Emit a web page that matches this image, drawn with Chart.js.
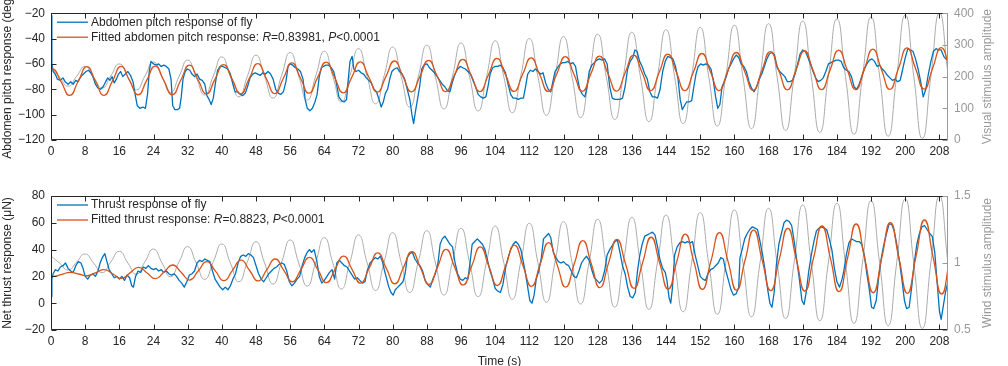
<!DOCTYPE html>
<html>
<head>
<meta charset="utf-8">
<title>Fly pitch and thrust responses</title>
<script src="https://cdn.jsdelivr.net/npm/chart.js@4.4.0/dist/chart.umd.min.js"></script>
<style>
  html, body { margin: 0; padding: 0; background: #fff; overflow: hidden; }
  canvas { position: absolute; left: 0; }
  #pitchChart { top: 0; }
  #thrustChart { top: 170px; }
</style>
</head>
<body>
<canvas id="pitchChart" width="1008" height="170"></canvas>
<canvas id="thrustChart" width="1008" height="200"></canvas>
<script>
// ---- data ----
const timeTicks = [0, 8, 16, 24, 32, 40, 48, 56, 64, 72, 80, 88, 96, 104, 112, 120, 128, 136, 144, 152, 160, 168, 176, 184, 192, 200, 208];
const pitchTicks = [-120, -100, -80, -60, -40, -20];
const visualTicks = [0, 100, 200, 300, 400];
const thrustTicks = [-20, 0, 20, 40, 60, 80];
const windTicks = [0.5, 1, 1.5];

const pitchStats = { R: '0.83981', P: '0.0001' };
const thrustStats = { R: '0.8823', P: '0.0001' };

// abdomen pitch of fly, [time s, deg]
const pitchFly = [
  [0,-22],[0.2,-60],[0.5,-66],[1,-68],[1.5,-72],[2.2,-73],[2.8,-71],[3.3,-74],[4,-76],[4.6,-74],[5.2,-76],[5.8,-73],
  [6.3,-74],[7,-70],[7.6,-68],[8.2,-66],[8.8,-65],[9.3,-67],[9.8,-70],[10.4,-76],[11,-79],[11.6,-80],[12.2,-78],[12.8,-74],
  [13.3,-71],[13.8,-73],[14.3,-70],[14.8,-75],[15.3,-72],[15.8,-68],[16.3,-66],[16.8,-70],[17.4,-68],[18,-66],[18.6,-69],
  [19.2,-74],[19.7,-84],[20.2,-93],[20.8,-95],[21.5,-94],[22.1,-95],[22.6,-84],[23,-66],[23.4,-58],[24,-60],[24.6,-61],
  [25.2,-60],[25.8,-62],[26.4,-61],[27,-62],[27.6,-64],[28.1,-72],[28.5,-93],[29,-96],[29.6,-96],[30.1,-95],[30.5,-86],
  [30.9,-72],[31.4,-66],[31.9,-64],[32.5,-65],[33,-68],[33.6,-70],[34.2,-68],[34.8,-72],[35.4,-73],[36,-76],[36.5,-85],
  [37,-88],[37.5,-92],[38,-87],[38.5,-75],[39,-65],[39.6,-62],[40.2,-62],[40.8,-63],[41.4,-64],[42,-68],[42.6,-76],
  [43.1,-82],[43.7,-82],[44.3,-84],[44.9,-85],[45.5,-83],[46,-78],[46.6,-71],[47.2,-68],[47.8,-67],[48.4,-68],[49,-69],
  [49.6,-67],[50.2,-68],[50.8,-66],[51.4,-68],[52,-72],[52.6,-80],[53.2,-83],[53.8,-84],[54.4,-82],[55,-74],[55.5,-62],
  [56,-60],[56.6,-61],[57.2,-63],[57.8,-64],[58.4,-66],[59,-72],[59.5,-88],[60,-95],[60.6,-97],[61.2,-95],[61.8,-90],
  [62.3,-84],[62.8,-70],[63.3,-63],[63.8,-62],[64.4,-61],[65,-61],[65.6,-63],[66.2,-66],[66.8,-75],[67.4,-86],[68,-89],
  [68.6,-90],[69.2,-88],[69.6,-72],[70,-58],[70.5,-54],[70.9,-64],[71.4,-66],[72,-65],[72.6,-67],[73.2,-68],[73.8,-71],
  [74.4,-73],[75,-75],[75.6,-80],[76.2,-82],[76.8,-88],[77.3,-94],[77.8,-90],[78.3,-83],[78.8,-80],[79.3,-72],[79.8,-66],
  [80.4,-64],[81,-63],[81.6,-66],[82.2,-68],[82.8,-72],[83.4,-80],[84,-88],[84.5,-100],[84.9,-107],[85.3,-98],[85.8,-88],
  [86.3,-78],[86.8,-64],[87.3,-61],[88,-60],[88.6,-63],[89.2,-65],[89.8,-67],[90.4,-70],[91,-73],[91.6,-76],[92.2,-78],
  [92.8,-81],[93.4,-82],[94,-74],[94.6,-68],[95.2,-64],[95.8,-62],[96.4,-63],[97,-64],[97.6,-66],[98.2,-68],[98.8,-73],
  [99.4,-78],[100,-84],[100.6,-86],[101.2,-87],[101.8,-86],[102.3,-78],[102.8,-68],[103.4,-63],[104,-62],[104.6,-62],
  [105.2,-61],[105.8,-63],[106.4,-67],[107,-76],[107.6,-84],[108.2,-87],[108.8,-87],[109.4,-88],[110,-87],[110.6,-87],
  [111.1,-78],[111.6,-68],[112.2,-65],[112.8,-66],[113.4,-64],[114,-66],[114.6,-68],[115.2,-67],[115.8,-75],[116.4,-80],
  [117,-82],[117.5,-74],[118,-66],[118.6,-63],[119.2,-60],[119.8,-59],[120.4,-59],[121,-58],[121.6,-60],[122.2,-59],
  [122.8,-62],[123.3,-72],[123.8,-80],[124.4,-84],[125,-86],[125.5,-78],[126,-66],[126.6,-61],[127.2,-59],[127.8,-57],
  [128.4,-56],[129,-57],[129.6,-56],[130.2,-60],[130.8,-78],[131.4,-87],[132,-88],[132.6,-88],[133.2,-88],[133.8,-87],
  [134.4,-78],[135,-64],[135.6,-58],[136.2,-55],[136.7,-49],[137.2,-50],[137.8,-58],[138.4,-62],[139,-68],[139.6,-72],
  [140.2,-82],[140.8,-86],[141.4,-86],[142,-87],[142.6,-80],[143.2,-66],[143.8,-58],[144.4,-54],[145,-55],[145.6,-56],
  [146.2,-62],[146.8,-72],[147.3,-88],[147.8,-96],[148.3,-93],[148.8,-90],[149.4,-90],[150,-89],[150.5,-78],[151,-68],
  [151.5,-62],[152.1,-60],[152.7,-61],[153.3,-60],[153.9,-61],[154.5,-64],[155,-72],[155.6,-86],[156.1,-95],[156.6,-92],
  [157.1,-78],[157.6,-74],[158.1,-70],[158.6,-64],[159.2,-60],[159.8,-56],[160.4,-53],[161,-55],[161.6,-60],[162.2,-62],
  [162.8,-66],[163.4,-74],[164,-79],[164.6,-82],[165.2,-78],[165.8,-72],[166.4,-68],[167,-62],[167.6,-56],[168.2,-52],
  [168.8,-51],[169.4,-53],[170,-63],[170.6,-66],[171.2,-68],[171.8,-70],[172.4,-74],[173,-74],[173.6,-73],[174.2,-68],
  [174.8,-60],[175.4,-52],[176,-49],[176.6,-50],[177.2,-55],[177.8,-60],[178.4,-66],[179,-71],[179.6,-74],[180.2,-73],
  [180.8,-71],[181.4,-66],[182,-60],[182.6,-59],[183.2,-58],[183.8,-57],[184.4,-57],[185,-58],[185.6,-63],[186.2,-65],
  [186.8,-66],[187.4,-70],[188,-78],[188.6,-80],[189.2,-76],[189.8,-70],[190.4,-64],[191,-60],[191.6,-57],[192.2,-56],
  [192.8,-58],[193.4,-62],[194,-61],[194.6,-64],[195.2,-66],[195.8,-69],[196.4,-71],[197,-73],[197.6,-72],[198.2,-74],
  [198.8,-73],[199.4,-64],[200,-55],[200.6,-48],[201.2,-49],[201.8,-50],[202.4,-56],[203,-64],[203.6,-74],[204.2,-86],
  [204.8,-80],[205.4,-68],[206,-58],[206.6,-50],[207.2,-48],[207.8,-49],[208.4,-49],[209,-54],[209.5,-56],[210,-56]
];

// fitted pitch, sampled every 2 s starting at -1.6 s (deg)
const pitchFitStart = -1.6;
const pitchFit = [
  -72, -64, -74.4, -84.8,  -73.5, -62.2, -73.5, -84.8,  -73.4, -62, -73.2, -84.3,  -73, -61.7, -73, -84.3,
  -72.7, -61, -72.3, -83.6,  -72, -60.5, -72, -83.6,  -71.6, -59.7, -71.5, -83.4,  -71.3, -59.2, -71.1, -83.1,
  -70.8, -58.6, -70.7, -82.8,  -70.6, -58.4, -70.3, -82.3,  -70, -57.7, -69.8, -82,  -69.6, -57.2, -69.5, -81.8,
  -69.1, -56.4, -69.1, -81.8,  -68.7, -55.6, -68.6, -81.7,  -68.4, -55.2, -68.4, -81.7,  -68, -54.3, -67.9, -81.6,
  -67.7, -53.9, -67.7, -81.5,  -67.2, -53, -67, -81.1,  -66.6, -52.2, -66.6, -81.1,  -66.4, -51.8, -66.4, -81,
  -66, -51, -65.9, -80.8,  -65.5, -50.3, -65.3, -80.4,  -65, -49.6, -65, -80.3,  -64.7, -49.1, -64.6, -80.2,
  -64.3, -48.4, -64.2, -80.1,  -63.7, -47.4, -63.6, -79.8,  -63.4, -47.1, -63.4
];

// visual stimulus amplitude, sampled every 2 s from 0 s
const visualStimStart = 0;
const visualStim = [
  228, 199, 170, 201,  232, 198, 164, 202,  240, 199, 158, 202,  246, 198, 150, 201,
  252, 197, 142, 202,  262, 199, 136, 202,  268, 200, 132, 204,  276, 201, 126, 203,
  280, 200, 120, 204,  288, 201, 114, 203,  293, 199, 104, 201,  299, 198, 98, 202,
  306, 199, 92, 202,  313, 200, 86, 203,  320, 199, 78, 202,  326, 198, 71, 202,
  334, 199, 65, 202,  340, 199, 58, 203,  348, 200, 52, 203,  355, 199, 44, 203,
  362, 199, 36, 201,  367, 198, 30, 202,  375, 199, 24, 203,  382, 200, 18, 203,
  388, 200, 12, 203,  394, 199, 5, 202,  400, 210
];

// net thrust of fly, [time s, uN]
const thrustFly = [
  [0,5],[0.2,18],[0.5,22],[1,25],[1.6,24],[2.2,27],[2.8,28],[3.4,30],[4,26],[4.6,24],[5.2,23],[5.8,28],[6.4,31],[7,30],
  [7.5,26],[8,20],[8.6,18],[9.2,21],[9.8,22],[10.4,20],[11,24],[11.5,30],[12,34],[12.6,37],[13.1,31],[13.6,25],[14.2,22],
  [14.8,19],[15.4,20],[16,18],[16.6,20],[17.2,17],[17.8,21],[18.4,19],[18.9,13],[19.3,12],[19.8,20],[20.4,24],[21,23],
  [21.6,27],[22.2,26],[22.8,28],[23.4,26],[24,25],[24.6,26],[25.2,24],[25.8,25],[26.4,23],[27,24],[27.6,22],[28.2,21],
  [28.8,22],[29.4,20],[30,17],[30.6,15],[31.2,12],[31.8,16],[32.4,21],[33,22],[33.6,24],[34.2,30],[34.8,32],[35.4,31],
  [36,33],[36.6,32],[37.2,31],[37.8,24],[38.4,18],[39,15],[39.6,12],[40.2,10],[40.8,12],[41.4,10],[42,13],[42.6,18],
  [43.2,22],[43.8,30],[44.4,35],[45,36],[45.6,35],[46.2,37],[46.8,36],[47.4,34],[48,28],[48.6,22],[49.2,18],[49.8,16],
  [50.4,19],[51,22],[51.6,24],[52.2,26],[52.8,27],[53.4,29],[54,30],[54.6,29],[55.2,24],[55.8,16],[56.4,13],[57,15],
  [57.6,18],[58.2,20],[58.8,28],[59.4,34],[60,38],[60.5,40],[61,38],[61.6,40],[62.2,32],[62.8,20],[63.4,15],[64,17],
  [64.6,20],[65.2,23],[65.8,25],[66.4,18],[66.9,30],[67.5,32],[68.1,30],[68.7,28],[69.3,27],[69.9,24],[70.5,21],[71.1,18],
  [71.7,19],[72.3,17],[72.9,15],[73.5,16],[74.1,25],[74.7,30],[75.3,32],[75.9,34],[76.5,33],[77.1,35],[77.6,31],[78.1,24],
  [78.6,18],[79.1,12],[79.6,8],[80.1,6],[80.6,10],[81.2,12],[81.8,14],[82.4,16],[82.9,22],[83.4,34],[84,37],[84.6,38],
  [85.2,33],[85.8,30],[86.4,28],[87,24],[87.6,17],[88.2,14],[88.8,12],[89.4,18],[90,22],[90.6,30],[91.1,44],[91.6,48],
  [92.2,50],[92.8,47],[93.4,44],[94,42],[94.6,30],[95.2,22],[95.8,18],[96.4,17],[97,19],[97.6,18],[98.1,30],[98.6,44],
  [99.2,46],[99.8,48],[100.4,46],[101,44],[101.6,40],[102.2,32],[102.8,24],[103.4,18],[104,11],[104.6,9],[105.2,8],
  [105.8,14],[106.4,26],[107,34],[107.6,40],[108.2,44],[108.8,46],[109.4,44],[110,40],[110.5,32],[111,24],[111.6,12],
  [112.1,2],[112.6,0],[113.1,6],[113.6,18],[114.2,24],[114.8,34],[115.3,48],[115.9,50],[116.5,52],[117,49],[117.6,38],
  [118.2,34],[118.8,31],[119.4,30],[120,31],[120.6,29],[121.2,28],[121.8,24],[122.4,20],[123,19],[123.6,24],[124.2,30],
  [124.8,33],[125.4,35],[126,32],[126.6,25],[127.2,19],[127.8,17],[128.4,15],[129,17],[129.6,24],[130.2,36],[130.8,40],
  [131.4,43],[132,46],[132.6,47],[133.2,38],[133.8,28],[134.4,22],[135,12],[135.6,5],[136.2,4],[136.8,8],[137.3,24],
  [137.8,35],[138.4,44],[139,50],[139.6,51],[140.2,52],[140.8,53],[141.4,51],[142,42],[142.6,32],[143.2,26],[143.8,23],
  [144.2,17],[144.7,4],[145.1,0],[145.5,12],[146,36],[146.6,42],[147.2,45],[147.8,46],[148.4,45],[149,46],[149.6,45],
  [150.2,46],[150.8,36],[151.4,28],[152,20],[152.6,18],[153.2,17],[153.8,22],[154.4,25],[155,26],[155.6,28],[156.2,30],
  [156.8,34],[157.4,33],[158,24],[158.6,17],[159.2,10],[159.8,6],[160.4,7],[161,12],[161.3,34],[161.8,40],[162.4,48],
  [163,52],[163.6,55],[164.2,57],[164.8,56],[165.4,55],[166,46],[166.6,36],[167.2,24],[167.8,10],[168.3,0],[168.8,-3],
  [169.3,8],[169.8,28],[170.4,44],[171,52],[171.6,60],[172.2,62],[172.8,61],[173.4,58],[174,46],[174.6,32],[175.2,18],
  [175.8,2],[176.3,-1],[176.8,8],[177.4,24],[178,36],[178.6,46],[179.2,54],[179.8,56],[180.4,57],[181,56],[181.6,55],
  [182.2,48],[182.8,40],[183.4,26],[184,16],[184.6,12],[185.2,18],[185.6,24],[186.2,36],[186.8,45],[187.4,48],[188,47],
  [188.6,46],[189.2,46],[189.8,44],[190.4,36],[191,22],[191.6,10],[192.1,-3],[192.6,-4],[193.2,2],[193.8,20],[194.4,34],
  [195,44],[195.6,52],[196.2,59],[196.8,59],[197.4,54],[198,44],[198.6,32],[199.2,18],[199.8,2],[200.3,-4],[200.9,-3],
  [201.5,12],[202.1,30],[202.7,44],[203.3,52],[203.9,57],[204.5,58],[205.1,55],[205.7,52],[206.3,50],[206.9,38],
  [207.5,14],[208,-6],[208.4,-12],[208.8,-4],[209.4,8],[210,16]
];

// fitted thrust, sampled every 2 s starting at -1.5 s (uN)
const thrustFitStart = -1.5;
const thrustFit = [
  21.5, 20, 21.5, 23,  21.8, 20.5, 22.8, 25,  21.8, 18.5, 22.6, 26.8,  22.6, 18.3, 23.4, 28.5,
  22.9, 17.3, 24.2, 31,  23.9, 16.8, 24.5, 32.2,  24.4, 16.6, 24.8, 33,  24.5, 16, 25.1, 34.2,
  24.8, 15.3, 25.3, 35.2,  25.1, 15, 26.3, 37.5,  26, 14.5, 26.5, 38.5,  26.3, 14, 27.1, 40.2,
  26.9, 13.6, 27.8, 42,  27.6, 13.2, 28.3, 43.4,  28, 12.6, 28.9, 45.2,  28.6, 12, 29.4, 46.7,
  29.2, 11.6, 29.7, 47.7,  29.4, 11.1, 30.2, 49.2,  29.9, 10.6, 31.1, 51.6,  31, 10.3, 31.5, 52.6,
  31.2, 9.8, 32.2, 54.6,  32, 9.4, 32.7, 55.9,  32.5, 9.1, 33.4, 57.6,  33.1, 8.6, 33.9, 59.1,
  33.5, 7.8, 34, 60.1,  33.8, 7.4, 34.8, 62.1,  34.5, 6.9, 34.5
];

// wind stimulus amplitude, sampled every 2 s from 0 s
const windStimStart = 0;
const windStim = [
  1.052, 1.0, 0.948, 1.007,  1.067, 0.998, 0.928, 1.008,  1.087, 1.0, 0.916, 1.01,  1.104, 1.0, 0.898, 1.01,
  1.122, 1.0, 0.878, 1.01,  1.142, 1.0, 0.86, 1.01,  1.159, 1.0, 0.843, 1.008,  1.172, 1.0, 0.828, 1.008,
  1.189, 0.998, 0.806, 1.008,  1.209, 1.002, 0.795, 1.01,  1.226, 1.003, 0.78, 1.01,  1.241, 1.0, 0.761, 1.01,
  1.259, 1.004, 0.749, 1.012,  1.276, 1.003, 0.729, 1.012,  1.296, 1.002, 0.708, 1.008,  1.308, 1.001, 0.694, 1.01,
  1.326, 0.998, 0.671, 1.006,  1.341, 0.998, 0.654, 1.006,  1.358, 0.997, 0.636, 1.006,  1.376, 0.996, 0.617, 1.006,
  1.396, 0.998, 0.599, 1.003,  1.408, 0.996, 0.585, 1.009,  1.433, 1.001, 0.569, 1.007,  1.446, 0.997, 0.549, 1.007,
  1.465, 0.998, 0.532, 1.005,  1.478, 0.995, 0.512, 1.006,  1.5, 1.0
];

// ---- styling ----
const FONT = '"Liberation Sans", Arial, sans-serif';
const BLUE = '#0072BD';
const ORANGE = '#D95319';
const STIM_GRAY = '#ababab';
const AXIS_GRAY = '#999999';
const INK = '#262626';

Chart.defaults.font.family = FONT;
Chart.defaults.font.size = 12;
Chart.defaults.color = INK;

function onGrid(values, t0) {
  return values.map((v, i) => ({ x: t0 + i * 2, y: v }));
}
function pairs(list) {
  return list.map(p => ({ x: p[0], y: p[1] }));
}
function minus(v) {
  return String(v).replace('-', '\u2212');
}
function fixTicks(list) {
  return scale => { scale.ticks = list.map(v => ({ value: v })); };
}

// MATLAB-like box, inward ticks, legend with italic R / P, right-hand title
const frame = {
  id: 'frame',
  afterDraw(chart, args, opts) {
    const { ctx, chartArea: a } = chart;
    const sx = chart.scales.x, yl = chart.scales.y, yr = chart.scales.y2;
    const L = Math.round(a.left) + 0.5, R = Math.round(a.right) - 0.5;
    const T = Math.round(a.top) + 0.5, B = Math.round(a.bottom) - 0.5;
    ctx.save();
    ctx.lineWidth = 1;

    ctx.strokeStyle = INK;
    ctx.beginPath();
    sx.ticks.forEach(t => {
      const p = Math.round(sx.getPixelForValue(t.value)) + 0.5;
      ctx.moveTo(p, B); ctx.lineTo(p, B - 5);
      ctx.moveTo(p, T); ctx.lineTo(p, T + 5);
    });
    yl.ticks.forEach(t => {
      const p = Math.round(yl.getPixelForValue(t.value)) + 0.5;
      ctx.moveTo(L, p); ctx.lineTo(L + 5, p);
    });
    ctx.moveTo(L, T); ctx.lineTo(R, T);
    ctx.moveTo(L, B); ctx.lineTo(R, B);
    ctx.moveTo(L, T); ctx.lineTo(L, B);
    ctx.stroke();

    ctx.strokeStyle = AXIS_GRAY;
    ctx.beginPath();
    yr.ticks.forEach(t => {
      const p = Math.round(yr.getPixelForValue(t.value)) + 0.5;
      ctx.moveTo(R, p); ctx.lineTo(R - 5, p);
    });
    ctx.moveTo(R, T); ctx.lineTo(R, B);
    ctx.stroke();

    // legend
    opts.legend.forEach((row, i) => {
      const y = a.top + 9 + i * 15;
      ctx.strokeStyle = row.color;
      ctx.lineWidth = 1.3;
      ctx.beginPath();
      ctx.moveTo(a.left + 6, y); ctx.lineTo(a.left + 37, y);
      ctx.stroke();
      let x = a.left + 40;
      ctx.fillStyle = INK;
      ctx.textBaseline = 'middle';
      ctx.textAlign = 'left';
      row.parts.forEach(p => {
        const text = typeof p === 'string' ? p : p.it;
        ctx.font = (typeof p === 'string' ? '' : 'italic ') + '12px ' + FONT;
        ctx.fillText(text, x, y);
        x += ctx.measureText(text).width;
      });
    });

    // right axis title, reading bottom to top
    ctx.translate(988, (a.top + a.bottom) / 2);
    ctx.rotate(-Math.PI / 2);
    ctx.font = '12px ' + FONT;
    ctx.fillStyle = AXIS_GRAY;
    ctx.textAlign = 'center';
    ctx.textBaseline = 'middle';
    ctx.fillText(opts.rightTitle, 0, 0);
    ctx.restore();
  }
};

function panel(id, o) {
  return new Chart(document.getElementById(id), {
    type: 'line',
    data: {
      datasets: [
        { data: o.fly, borderColor: BLUE, borderWidth: 1.3, tension: 0, yAxisID: 'y', order: 2 },
        { data: o.fit, borderColor: ORANGE, borderWidth: 1.3, tension: 0.55, yAxisID: 'y', order: 1 },
        { data: o.stim, borderColor: STIM_GRAY, borderWidth: 1, tension: 0.55, yAxisID: 'y2', order: 3 }
      ]
    },
    options: {
      responsive: false,
      animation: false,
      events: [],
      elements: { point: { radius: 0 }, line: { capBezierPoints: false, borderJoinStyle: 'round' } },
      layout: { padding: { top: o.padTop, left: 0, right: 0, bottom: 0 } },
      plugins: {
        legend: { display: false },
        tooltip: { enabled: false },
        frame: { legend: o.legend, rightTitle: o.rightTitle }
      },
      scales: {
        x: {
          type: 'linear', min: 0, max: 210,
          grid: { display: false, drawTicks: false },
          border: { display: false },
          ticks: { padding: 4.5, maxRotation: 0, autoSkip: false, color: INK },
          afterBuildTicks: fixTicks(timeTicks),
          afterFit: s => { s.height = o.xHeight; },
          title: o.xTitle
            ? { display: true, text: o.xTitle, color: INK, padding: { top: 0, bottom: 1 } }
            : { display: false }
        },
        y: {
          position: 'left', min: o.yMin, max: o.yMax,
          grid: { display: false, drawTicks: false },
          border: { display: false },
          ticks: { padding: 6, color: INK, callback: v => minus(v) },
          afterBuildTicks: fixTicks(o.yTicks),
          afterFit: s => { s.width = 51; },
          title: { display: true, text: o.yTitle, color: INK, padding: 0 }
        },
        y2: {
          position: 'right', min: o.y2Min, max: o.y2Max,
          grid: { display: false, drawTicks: false },
          border: { display: false },
          ticks: { padding: 6, color: AXIS_GRAY, callback: v => String(v) },
          afterBuildTicks: fixTicks(o.y2Ticks),
          afterFit: s => { s.width = 60; }
        }
      }
    },
    plugins: [frame]
  });
}

panel('pitchChart', {
  fly: pairs(pitchFly),
  fit: onGrid(pitchFit, pitchFitStart),
  stim: onGrid(visualStim, visualStimStart),
  padTop: 7, xHeight: 30,
  yMin: -120, yMax: -20, yTicks: pitchTicks,
  y2Min: 0, y2Max: 400, y2Ticks: visualTicks,
  yTitle: 'Abdomen pitch response (deg)',
  rightTitle: 'Visual stimulus amplitude',
  legend: [
    { color: BLUE, parts: ['Abdomen pitch response of fly'] },
    { color: ORANGE, parts: ['Fitted abdomen pitch response: ', { it: 'R' }, '=' + pitchStats.R + ', ', { it: 'P' }, '<' + pitchStats.P] }
  ]
});

panel('thrustChart', {
  fly: pairs(thrustFly),
  fit: onGrid(thrustFit, thrustFitStart),
  stim: onGrid(windStim, windStimStart),
  padTop: 26, xHeight: 40, xTitle: 'Time (s)',
  yMin: -20, yMax: 80, yTicks: thrustTicks,
  y2Min: 0.5, y2Max: 1.5, y2Ticks: windTicks,
  yTitle: 'Net thrust response (\u03bcN)',
  rightTitle: 'Wind stimulus amplitude',
  legend: [
    { color: BLUE, parts: ['Thrust response of fly'] },
    { color: ORANGE, parts: ['Fitted thrust response: ', { it: 'R' }, '=' + thrustStats.R + ', ', { it: 'P' }, '<' + thrustStats.P] }
  ]
});
</script>
</body>
</html>
